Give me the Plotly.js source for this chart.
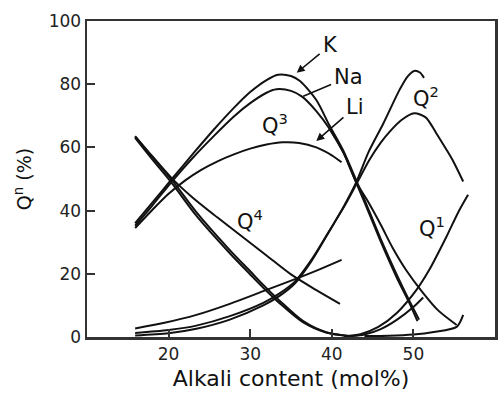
<!DOCTYPE html>
<html>
<head>
<meta charset="utf-8">
<script src="https://cdn.plot.ly/plotly-3.0.1.min.js"></script>
<style>html,body{margin:0;padding:0;background:#fff;}#chart{width:498px;height:403px;}</style>
</head>
<body>
<div id="chart"></div>
<script>
// Tick labels
const xTickVals = [20, 30, 40, 50];
const yTickVals = [0, 20, 40, 60, 80, 100];

// Q4 curves
const q4K_x  = [15.9, 18, 20.4, 23.4, 27.5, 30, 31.6, 33.6, 36.5, 39.3, 42];
const q4K_y  = [63.4, 57, 49.7, 39.5, 27.5, 20.8, 16.5, 11.5, 5, 1.5, 0.3];
const q4Na_x = [15.9, 18, 20.4, 23.4, 27.5, 30, 31.6, 33.6, 36.5, 39.3, 42];
const q4Na_y = [63, 56.2, 48.7, 38.4, 26.5, 19.8, 15.6, 10.7, 4.6, 1.4, 0.3];
const q4Li_x = [15.9, 18, 20.4, 23, 26, 29, 32, 35, 38, 41];
const q4Li_y = [63.6, 57.2, 50.2, 44, 37.8, 31.8, 25.8, 19.8, 15, 10.5];

// Q3 curves
const q3K_x  = [15.9, 18, 20.4, 23, 25.5, 28, 30, 32, 33.4, 35, 36.1, 38.1, 39.7, 41.4, 43, 44, 46, 48, 49.5, 50.7];
const q3K_y  = [36, 42.5, 50, 58, 65.5, 72.5, 77.5, 81.3, 83, 82.6, 81, 75, 67, 59, 49.5, 43.5, 31, 19.5, 11.5, 5.5];
const q3Na_x = [15.9, 18, 20.4, 23, 25.5, 28, 30, 32, 33.2, 35, 36.4, 38.1, 39.7, 41.4, 43, 44, 46, 48, 49.5, 50.5];
const q3Na_y = [35.2, 41.6, 49.2, 56.8, 63.5, 69.8, 74, 77.3, 78.4, 77.9, 76, 71.5, 66, 58.5, 48.8, 42.7, 30.2, 18.6, 10.8, 5];
const q3X_x  = [39.7, 41.4, 43, 44.4, 46, 47.5, 49.1, 51.1, 53, 55.3];
const q3X_y  = [66, 58.5, 49, 43, 35.5, 28, 21.2, 14.2, 8.5, 3.8];
const q3Li_x = [15.9, 18, 20, 22, 24, 26, 28, 30, 32, 34, 36, 38.1, 40, 41.2];
const q3Li_y = [34.5, 40.2, 45.3, 49.5, 52.9, 55.6, 57.8, 59.6, 60.9, 61.6, 61.4, 60, 57.5, 55.3];

// Q2 curves
const q2K_x  = [15.9, 20, 23.4, 27.5, 31.6, 33.6, 35.5, 37.5, 39.7, 41.5, 43, 44.5, 46.3, 48.3, 49.3, 50.1, 50.8, 51.3];
const q2K_y  = [0.5, 1.2, 2.6, 5.5, 10, 13, 17, 24, 33.5, 41.5, 49, 58.5, 67.5, 78.2, 82.5, 84.2, 83.7, 82];
const q2Na_x = [15.9, 20, 23.4, 27.5, 31.6, 33.6, 35.5, 37.5, 39.7, 41.5, 43, 44.6, 46, 47.1, 48.5, 50.1, 51.5, 52.8, 54, 54.8, 56.1];
const q2Na_y = [1.3, 2.2, 3.6, 6.6, 10.8, 13.8, 17.6, 24.4, 33.6, 41.2, 48.3, 56, 61.5, 65, 68.6, 70.8, 69.5, 64.5, 59.5, 56, 49.2];
const q2Li_x = [15.9, 19.5, 23.4, 27.5, 31.6, 35.5, 38.5, 41.2];
const q2Li_y = [2.7, 4.5, 7, 10.5, 14.5, 18.3, 21.4, 24.4];

// Q1 curves
const q1a_x = [41.5, 43.5, 45.7, 48, 50.4, 52, 54.1, 55.5, 56.7];
const q1a_y = [0.3, 0.9, 3.2, 7.7, 15, 21.5, 32, 39.5, 45];
const q1b_x = [42, 44, 46, 48, 50, 51.2];
const q1b_y = [0.2, 0.8, 2.5, 5.5, 9.5, 12.5];
const q0_x  = [44, 47, 50, 52.5, 55.3, 56.1];
const q0_y  = [0.3, 0.4, 0.8, 1.6, 3.2, 7];

const curves = [
  ['Q4 K', q4K_x, q4K_y], ['Q4 Na', q4Na_x, q4Na_y], ['Q4 Li', q4Li_x, q4Li_y],
  ['Q3 K', q3K_x, q3K_y], ['Q3 Na', q3Na_x, q3Na_y], ['Q3', q3X_x, q3X_y], ['Q3 Li', q3Li_x, q3Li_y],
  ['Q2 K', q2K_x, q2K_y], ['Q2 Na', q2Na_x, q2Na_y], ['Q2 Li', q2Li_x, q2Li_y],
  ['Q1 a', q1a_x, q1a_y], ['Q1 b', q1b_x, q1b_y], ['Q1 c', q0_x, q0_y]
];

const traces = curves.map(c => ({
  type: 'scatter', mode: 'lines', name: c[0], x: c[1], y: c[2],
  line: {color: '#111', width: 2, shape: 'spline', smoothing: 0.8},
  hoverinfo: 'skip', showlegend: false
}));

const labFont = {family: 'DejaVu Sans, Arial, sans-serif', size: 21, color: '#111'};
const annotations = [
  {x: 35.7, y: 83.6, ax: 39.8, ay: 92.4, axref: 'x', ayref: 'y', text: 'K', font: labFont,
   showarrow: true, arrowhead: 2, arrowsize: 1, arrowwidth: 1.6, arrowcolor: '#111', standoff: 0, startstandoff: 2},
  {x: 36.5, y: 76.2, ax: 42.1, ay: 82.3, axref: 'x', ayref: 'y', text: 'Na', font: labFont,
   showarrow: true, arrowhead: 0, arrowwidth: 1.6, arrowcolor: '#111', standoff: 0, startstandoff: 2},
  {x: 38.1, y: 62.0, ax: 42.9, ay: 72.8, axref: 'x', ayref: 'y', text: 'Li', font: labFont,
   showarrow: true, arrowhead: 2, arrowsize: 1, arrowwidth: 1.6, arrowcolor: '#111', standoff: 0, startstandoff: 2},
  {x: 33.0, y: 67.5, text: 'Q<sup>3</sup>', showarrow: false, font: labFont},
  {x: 51.6, y: 76.0, text: 'Q<sup>2</sup>', showarrow: false, font: labFont},
  {x: 30.0, y: 37.0, text: 'Q<sup>4</sup>', showarrow: false, font: labFont},
  {x: 52.3, y: 34.8, text: 'Q<sup>1</sup>', showarrow: false, font: labFont}
];

const tickFont = {family: 'DejaVu Sans, Arial, sans-serif', size: 17, color: '#222'};
const layout = {
  width: 498, height: 403,
  margin: {l: 87, r: 3, t: 21, b: 66},
  paper_bgcolor: '#fff', plot_bgcolor: '#fff',
  showlegend: false,
  xaxis: {
    range: [10, 60], tickvals: xTickVals, ticktext: xTickVals.map(String),
    ticks: 'inside', ticklen: 8, tickwidth: 2, tickcolor: '#333',
    showline: true, linecolor: '#333', linewidth: 2.5, mirror: true,
    showgrid: false, zeroline: false, tickfont: tickFont,
    title: {text: 'Alkali content (mol%)', font: {family: 'DejaVu Sans, Arial, sans-serif', size: 22, color: '#111'}, standoff: 8}
  },
  yaxis: {
    range: [0, 100], tickvals: yTickVals, ticktext: yTickVals.map(String),
    ticks: 'inside', ticklen: 8, tickwidth: 2, tickcolor: '#333',
    showline: true, linecolor: '#333', linewidth: 2.5, mirror: true,
    showgrid: false, zeroline: false, tickfont: tickFont,
    title: {text: 'Q<sup>n</sup> (%)', font: {family: 'DejaVu Sans, Arial, sans-serif', size: 19, color: '#111'}, standoff: 12}
  },
  annotations: annotations
};

Plotly.newPlot('chart', traces, layout, {staticPlot: true, displayModeBar: false});
</script>
</body>
</html>
